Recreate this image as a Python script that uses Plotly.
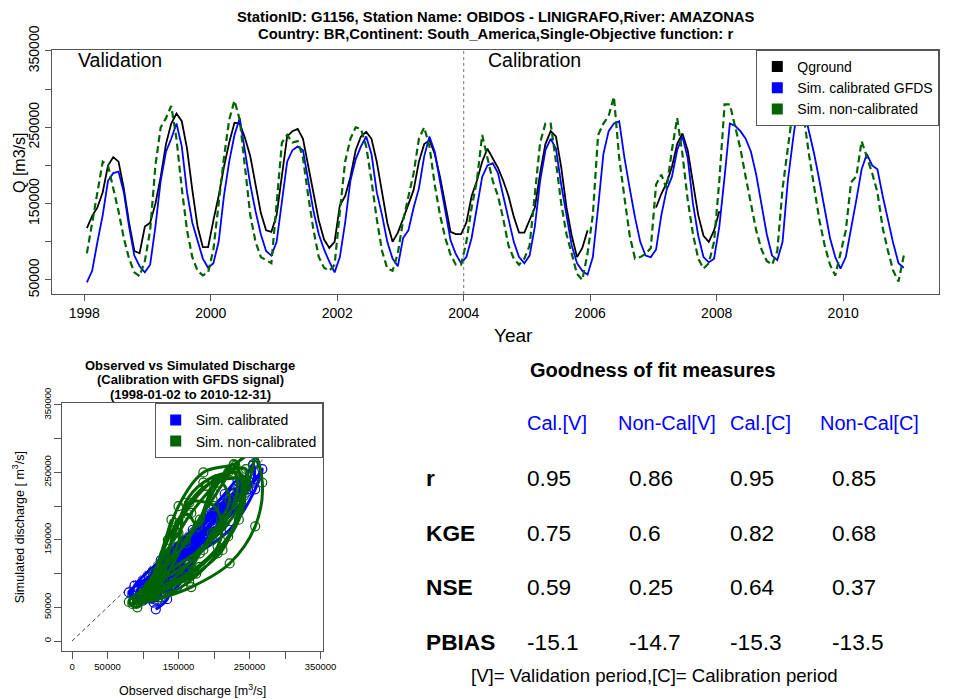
import plotly.graph_objects as go

W, H = 956, 699
FONT = "Liberation Sans, Arial, sans-serif"

# ---------------- data (monthly) ----------------
years = list(range(1998, 2011))

q_ground = [
    118000, 134000, 145000, 165000, 200000, 211000, 205000, 170000, 125000, 88000, 85000, 120000,   # 1998
    125000, 150000, 185000, 228000, 255000, 268000, 258000, 222000, 168000, 120000, 93000, 93000,   # 1999
    128000, 160000, 198000, 230000, 256000, 255000, 236000, 212000, 175000, 138000, 115000, 113000, # 2000
    135000, 188000, 238000, 245000, 248000, 235000, 200000, 165000, 128000, 103000, 92000, 100000,  # 2001
    148000, 160000, 185000, 220000, 238000, 244000, 235000, 205000, 165000, 125000, 100000, 112000, # 2002
    130000, 150000, 168000, 205000, 228000, 233000, 215000, 185000, 150000, 113000, 110000, 110000, # 2003
    125000, 160000, 180000, 205000, 222000, 210000, 197000, 180000, 160000, 133000, 112000, 112000, # 2004
    128000, 145000, 190000, 228000, 245000, 238000, 198000, 145000, 108000, 80000, 92000, 115000,   # 2005
    None, None, None, None, None, None, None, None, None, None, None, None,                         # 2006
    145000, 163000, 177000, 198000, 228000, 242000, 220000, 180000, 135000, 108000, 100000, 115000, # 2007
    140000, None, None, None, None, None, None, None, None, None, None, None,                       # 2008
    None, None, None, None, None, None, None, None, None, None, None, None,                         # 2009
    None, None, None, None, None, None, None, None, None, None, None, None,                         # 2010
]

sim_calibrated = [
    47000, 62000, 100000, 135000, 180000, 190000, 192000, 165000, 120000, 82000, 68000, 60000,      # 1998
    70000, 120000, 180000, 218000, 235000, 255000, 225000, 165000, 125000, 100000, 78000, 66000,    # 1999
    72000, 100000, 160000, 205000, 240000, 262000, 220000, 175000, 140000, 110000, 88000, 82000,    # 2000
    100000, 150000, 205000, 220000, 225000, 220000, 180000, 140000, 110000, 90000, 74000, 60000,    # 2001
    80000, 125000, 180000, 208000, 225000, 238000, 215000, 165000, 135000, 100000, 78000, 68000,    # 2002
    105000, 115000, 145000, 170000, 212000, 238000, 218000, 180000, 140000, 102000, 84000, 72000,   # 2003
    80000, 105000, 145000, 185000, 200000, 203000, 190000, 160000, 128000, 100000, 80000, 72000,    # 2004
    82000, 120000, 180000, 220000, 235000, 222000, 175000, 133000, 95000, 72000, 62000, 57000,      # 2005
    80000, 145000, 215000, 245000, 255000, 258000, 210000, 170000, 132000, 100000, 82000, 80000,    # 2006
    90000, 135000, 168000, 185000, 220000, 238000, 210000, 150000, 108000, 80000, 73000, 78000,     # 2007
    120000, 185000, 255000, 252000, 245000, 235000, 218000, 188000, 150000, 110000, 82000, 76000,   # 2008
    100000, 180000, 235000, 285000, 275000, 245000, 215000, 180000, 140000, 105000, 80000, 65000,   # 2009
    80000, 115000, 155000, 195000, 215000, 200000, 195000, 160000, 128000, 98000, 72000, 66000,     # 2010
]

sim_non_calibrated = [
    85000, 125000, 160000, 205000, 200000, 170000, 140000, 105000, 78000, 60000, 55000, 75000,      # 1998
    115000, 200000, 250000, 262000, 278000, 235000, 170000, 115000, 80000, 62000, 56000, 60000,     # 1999
    90000, 150000, 210000, 260000, 285000, 260000, 195000, 135000, 100000, 80000, 76000, 72000,     # 2000
    150000, 230000, 240000, 230000, 232000, 210000, 160000, 115000, 80000, 66000, 62000, 70000,     # 2001
    140000, 205000, 235000, 250000, 248000, 225000, 180000, 130000, 88000, 65000, 62000, 85000,     # 2002
    128000, 160000, 190000, 235000, 250000, 225000, 175000, 135000, 105000, 83000, 70000, 70000,    # 2003
    100000, 145000, 180000, 240000, 210000, 180000, 160000, 130000, 95000, 78000, 70000, 78000,     # 2004
    95000, 165000, 230000, 255000, 255000, 205000, 150000, 110000, 82000, 58000, 50000, 85000,      # 2005
    135000, 240000, 255000, 265000, 290000, 210000, 158000, 108000, 78000, 80000, 84000, 92000,     # 2006
    175000, 188000, 170000, 220000, 262000, 215000, 155000, 110000, 78000, 65000, 72000, 100000,    # 2007
    180000, 280000, 280000, 252000, 222000, 185000, 150000, 115000, 90000, 75000, 70000, 88000,     # 2008
    170000, 225000, 275000, 300000, 265000, 215000, 172000, 128000, 95000, 70000, 56000, 85000,     # 2009
    115000, 178000, 186000, 232000, 212000, 190000, 165000, 118000, 88000, 62000, 48000, 82000,     # 2010
]

year_ticks = [1998, 2000, 2002, 2004, 2006, 2008, 2010]
q_ticks = [50000, 150000, 250000, 350000]
q_tick_text = ["50000", "150000", "250000", "350000"]
q_minor_ticks = [100000, 200000, 300000]
sc_ticks = [0, 50000, 150000, 250000, 350000]
sc_tick_text = ["0", "50000", "150000", "250000", "350000"]
sc_minor_ticks = [100000, 200000, 300000]

gof_columns = ["Cal.[V]", "Non-Cal[V]", "Cal.[C]", "Non-Cal[C]"]
gof_rows = ["r", "KGE", "NSE", "PBIAS"]
gof_cal_v = [0.95, 0.75, 0.59, -15.1]
gof_noncal_v = [0.86, 0.6, 0.25, -14.7]
gof_cal_c = [0.95, 0.82, 0.64, -15.3]
gof_noncal_c = [0.85, 0.68, 0.37, -13.5]

# time axis (decimal years, mid-month)
time = [y + (m + 0.5) / 12 for y in years for m in range(12)]

BLACK = "#000000"
BLUE = "#0000FF"
GREEN = "#006400"
FRAME = "#555555"


def px(x):
    return x / W


def py(y):
    return 1 - y / H


fig = go.Figure()

# ---------------- top: time series ----------------
fig.add_trace(go.Scatter(x=time, y=q_ground, mode="lines", line=dict(color=BLACK, width=1.8),
                         showlegend=False, connectgaps=False, xaxis="x", yaxis="y"))
fig.add_trace(go.Scatter(x=time, y=sim_calibrated, mode="lines", line=dict(color=BLUE, width=1.8),
                         showlegend=False, xaxis="x", yaxis="y"))
fig.add_trace(go.Scatter(x=time, y=sim_non_calibrated, mode="lines",
                         line=dict(color=GREEN, width=2.2, dash="7px,4px"),
                         showlegend=False, xaxis="x", yaxis="y"))

# legend entries (square symbols)
for name, col in [("Qground", BLACK), ("Sim. calibrated GFDS", BLUE), ("Sim. non-calibrated", GREEN)]:
    fig.add_trace(go.Scatter(x=[None], y=[None], mode="markers", name=name,
                             marker=dict(symbol="square", size=11, color=col),
                             legend="legend", xaxis="x", yaxis="y"))

# ---------------- bottom-left: scatter ----------------
fig.add_trace(go.Scatter(x=[0, 350000], y=[0, 350000], mode="lines",
                         line=dict(color="#444444", width=1, dash="4px,3px"),
                         showlegend=False, xaxis="x2", yaxis="y2"))
fig.add_trace(go.Scatter(x=q_ground, y=sim_calibrated, mode="lines+markers",
                         line=dict(color=BLUE, width=3, shape="spline"),
                         marker=dict(symbol="circle-open", size=9, color=BLUE, line=dict(width=1.2)),
                         showlegend=False, xaxis="x2", yaxis="y2"))
fig.add_trace(go.Scatter(x=q_ground, y=sim_non_calibrated, mode="lines+markers",
                         line=dict(color=GREEN, width=3, shape="spline"),
                         marker=dict(symbol="circle-open", size=9, color=GREEN, line=dict(width=1.2)),
                         showlegend=False, xaxis="x2", yaxis="y2"))
for name, col in [("Sim. calibrated", BLUE), ("Sim. non-calibrated", GREEN)]:
    fig.add_trace(go.Scatter(x=[None], y=[None], mode="markers", name=name,
                             marker=dict(symbol="square", size=11, color=col),
                             legend="legend2", xaxis="x2", yaxis="y2"))

axis_common = dict(showline=True, mirror=True, linecolor=FRAME, linewidth=1, ticks="outside",
                   tickcolor=FRAME, showgrid=False, zeroline=False, automargin=False)

fig.update_layout(
    width=W, height=H,
    margin=dict(l=0, r=0, t=0, b=0, pad=0, autoexpand=False),
    paper_bgcolor="white", plot_bgcolor="white",
    font=dict(family=FONT, color="#000000"),
    xaxis=dict(domain=[px(51.7), px(939.3)], range=[1997.485, 2011.52], tickvals=year_ticks,
               ticklen=6, tickfont=dict(size=14), anchor="y", **axis_common),
    yaxis=dict(domain=[py(294), py(50)], range=[31650, 351300], tickvals=q_ticks,
               ticktext=q_tick_text,
               minor=dict(tickvals=q_minor_ticks, ticks="outside", ticklen=6, tickcolor=FRAME,
                          showgrid=False),
               tickangle=-90, ticklen=6, tickfont=dict(size=14), anchor="x", **axis_common),
    xaxis2=dict(domain=[px(62.3), px(322.7)], range=[-13700, 353100], tickvals=sc_ticks,
                ticktext=sc_tick_text,
                minor=dict(tickvals=sc_minor_ticks, ticks="outside", ticklen=7, tickcolor=FRAME,
                           showgrid=False),
                ticklen=7, tickfont=dict(size=9.5), anchor="y2", **axis_common),
    yaxis2=dict(domain=[py(651), py(403.3)], range=[-14800, 352500], tickvals=sc_ticks,
                ticktext=sc_tick_text,
                minor=dict(tickvals=sc_minor_ticks, ticks="outside", ticklen=7, tickcolor=FRAME,
                           showgrid=False),
                tickangle=-90, ticklen=7, tickfont=dict(size=9.5), anchor="x2", **axis_common),
    legend=dict(x=px(939.3), y=py(50), xanchor="right", yanchor="top", bgcolor="white",
                bordercolor=FRAME, borderwidth=1, font=dict(size=14), itemwidth=30,
                tracegroupgap=0),
    legend2=dict(x=px(322.7), y=py(403.3), xanchor="right", yanchor="top", bgcolor="white",
                 bordercolor=FRAME, borderwidth=1, font=dict(size=14), itemwidth=30,
                 tracegroupgap=0),
)

# vertical dotted separator at 2004
fig.add_shape(type="line", x0=2004, x1=2004, y0=0, y1=1, xref="x", yref="y domain",
              line=dict(color="#777777", width=1, dash="dot"))

ann = []


def text(x, y, s, size, bold=False, color="#000000", xanchor="center", angle=0):
    ann.append(dict(x=px(x), y=py(y), xref="paper", yref="paper", text=f"<b>{s}</b>" if bold else s,
                    showarrow=False, xanchor=xanchor, yanchor="middle", textangle=angle,
                    font=dict(size=size, color=color, family=FONT)))


# titles
text(495.5, 16.5, "StationID: G1156, Station Name: OBIDOS - LINIGRAFO,River: AMAZONAS", 14.8, bold=True)
text(495.5, 33.5, "Country: BR,Continent: South_America,Single-Objective function: r", 14.8, bold=True)
text(76, 60, "Validation", 19.5, xanchor="left")
text(486, 60, "Calibration", 19.5, xanchor="left")
text(513, 335, "Year", 19)
text(20, 163, "Q [m3/s]", 16, angle=-90)

# scatter titles
text(190, 365, "Observed vs Simulated Discharge", 13, bold=True)
text(190, 380, "(Calibration with GFDS signal)", 13, bold=True)
text(190, 395, "(1998-01-02 to 2010-12-31)", 13, bold=True)
text(192.5, 690, "Observed discharge [m<sup>3</sup>/s]", 12.5)
text(18.3, 527, "Simulated discharge [ m<sup>3</sup>/s]", 12.5, angle=-90)

# goodness of fit table
text(653, 370, "Goodness of fit measures", 20, bold=True)
header_x = [525, 616, 728, 818]
value_x = [525, 626.7, 728, 829.7]
row_y = [478, 533, 587, 642]
for hx, h in zip(header_x, gof_columns):
    text(hx, 423, h, 20, color=BLUE, xanchor="left")
columns = [gof_cal_v, gof_noncal_v, gof_cal_c, gof_noncal_c]
for ry, rname, i in zip(row_y, gof_rows, range(len(gof_rows))):
    text(424, ry, rname, 22.7, bold=True, xanchor="left")
    for vx, col in zip(value_x, columns):
        text(vx, ry, str(col[i]), 22.7, xanchor="left")
text(654, 675, "[V]= Validation period,[C]= Calibration period", 18.6)

fig.update_layout(annotations=ann)

fig.write_html("out.html", config={"displayModeBar": False},
               post_script="document.body.style.margin='0px';")
